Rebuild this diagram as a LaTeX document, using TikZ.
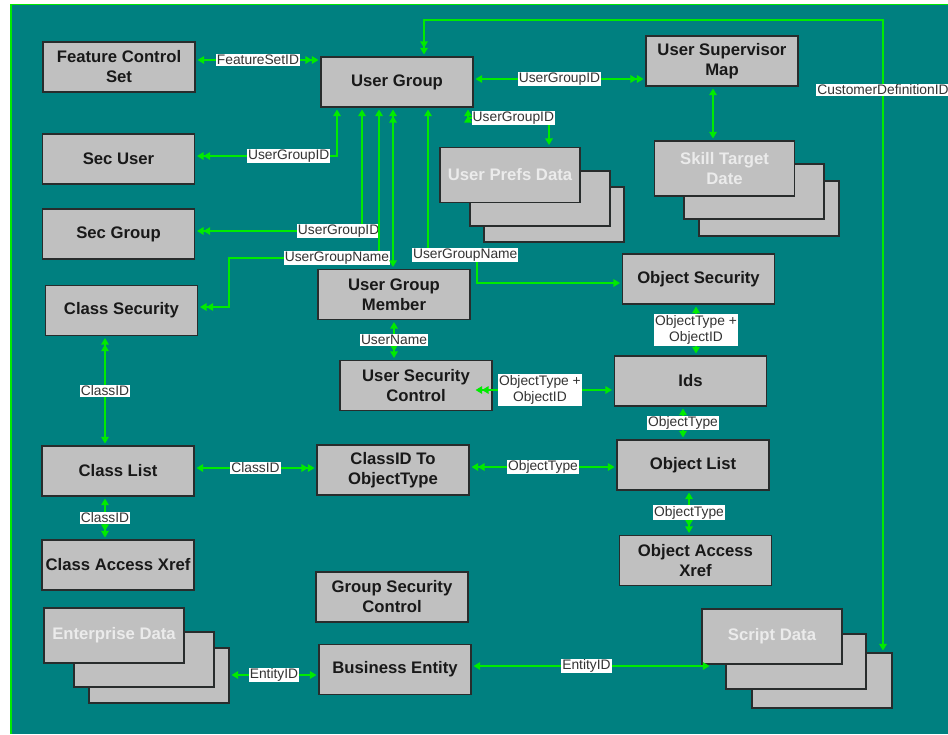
\documentclass[tikz,border=0pt]{standalone}
\usepackage{fontspec}
\setmainfont{Liberation Sans}
\usetikzlibrary{arrows.meta}
\definecolor{teal0}{RGB}{0,128,128}
\definecolor{lime0}{RGB}{0,235,0}
\definecolor{boxgray}{RGB}{192,192,192}
\definecolor{edgegray}{RGB}{40,44,44}

\begin{document}
\begin{tikzpicture}[x=1pt,y=-1pt,
  >={Triangle[length=6.5pt,width=7.5pt]},
  box/.style={draw=edgegray,line width=1.1pt,fill=boxgray,minimum width=152pt,minimum height=50pt,align=center,text=black!90,font=\fontsize{16.7}{20}\selectfont\bfseries},
  back/.style={draw=edgegray,line width=1.1pt,fill=boxgray,minimum width=140pt,minimum height=55pt},
  front/.style={back,align=center,text=white!92!black,font=\fontsize{16.7}{20}\selectfont\bfseries},
  link/.style={draw=lime0,line width=1.3pt,shorten <=2pt,shorten >=2pt},
  lbl/.style={fill=white,text=black!80,inner sep=1pt,font=\fontsize{13.8}{16.5}\selectfont}]
\useasboundingbox (0,0) rectangle (948,734);
\fill[white] (0,0) rectangle (948,734);
\fill[teal0] (11,4.5) rectangle (948,734);
\draw[lime0,line width=1.5pt] (11,734) -- (11,4.5) -- (948,4.5);

\node[box] (fcs) at (119,67) {Feature Control\\Set};
\node[box] (secuser) at (118.5,159) {Sec User};
\node[box] (secgroup) at (118.5,234) {Sec Group};
\node[box] (classsec) at (121.5,310.5) {Class Security};
\node[box] (classlist) at (118,471) {Class List};
\node[box,inner sep=1pt] (classxref) at (118,565) {Class Access Xref};
\node[box] (ug) at (397,82) {User Group};
\node[box] (usm) at (722,61) {User Supervisor\\Map};
\node[box] (ugm) at (394,294.5) {User Group\\Member};
\node[box] (objsec) at (698.5,279) {Object Security};
\node[box] (usc) at (416,385.5) {User Security\\Control};
\node[box] (ids) at (690.5,381) {Ids};
\node[box] (cid2ot) at (393,470) {ClassID To\\ObjectType};
\node[box] (objlist) at (693,465) {Object List};
\node[box] (objxref) at (695.5,560.5) {Object Access\\Xref};
\node[box] (gsc) at (392,597) {Group Security\\Control};
\node[box] (be) at (395,669.5) {Business Entity};

\node[back] (upd3) at (554,214.5) {};
\node[back] (upd2) at (540,198.5) {};
\node[front] (upd) at (510,175) {User Prefs Data};
\node[back] (std3) at (769,208.5) {};
\node[back] (std2) at (754,191.5) {};
\node[front] (std) at (724.5,168.5) {Skill Target\\Date};
\node[back] (ent3) at (159,675.5) {};
\node[back] (ent2) at (144,659.5) {};
\node[front] (ent) at (114,635.5) {Enterprise Data};
\node[back] (scr3) at (822,680.5) {};
\node[back] (scr2) at (796,661.5) {};
\node[front] (scr) at (772,636.5) {Script Data};

\draw[link,<->>] (fcs.east |- 0,60) -- node[lbl]{FeatureSetID} (ug.west |- 0,60);
\draw[link,<->>] (ug.east |- 0,79) -- node[lbl]{UserGroupID} (usm.west |- 0,79);
\draw[link,<->] (usm.south -| 713,0) -- (std.north -| 713,0);
\draw[link,<<->] (ug.north -| 424,0) |- (883,20) -- node[lbl,pos=.11]{CustomerDefinitionID} (scr3.north -| 883,0);
\draw[link,<->>] (ug.south -| 337,0) |- node[lbl,pos=.67]{UserGroupID} (secuser.east |- 0,156);
\draw[link,<->>] (ug.south -| 362,0) |- node[lbl,pos=.57]{UserGroupID} (secgroup.east |- 0,231);
\draw[link,<->>] (ug.south -| 379,0) |- node[lbl,pos=.64]{UserGroupName} (229,258) |- (classsec.east |- 0,307);
\draw[link,<<->] (ug.south -| 393,0) -- (ugm.north -| 393,0);
\draw[link,<->] (ug.south -| 428,0) |- node[lbl,pos=.88]{UserGroupName} (477,255) |- (objsec.west |- 0,283);
\draw[link,<<->] (ug.south -| 468,0) |- node[lbl,pos=.78]{UserGroupID} (549,118) -- (upd.north -| 549,0);
\draw[link,<->>] (ugm.south -| 394,0) -- node[lbl]{UserName} (usc.north -| 394,0);
\draw[link,<<->,shorten <=-17pt] (usc.east |- 0,390) -- node[lbl,pos=.39,align=center]{ObjectType +\\ObjectID} (ids.west |- 0,390);
\draw[link,<->] (objsec.south -| 696,0) -- node[lbl,align=center]{ObjectType +\\ObjectID} (ids.north -| 696,0);
\draw[link,<<->] (ids.south -| 683,0) -- node[lbl]{ObjectType} (objlist.north -| 683,0);
\draw[link,<<->] (classsec.south -| 105,0) -- node[lbl]{ClassID} (classlist.north -| 105,0);
\draw[link,<->>] (classlist.east |- 0,468) -- node[lbl]{ClassID} (cid2ot.west |- 0,468);
\draw[link,<->>] (classlist.south -| 105,0) -- node[lbl]{ClassID} (classxref.north -| 105,0);
\draw[link,<<->] (cid2ot.east |- 0,467) -- node[lbl]{ObjectType} (objlist.west |- 0,467);
\draw[link,<->>] (objlist.south -| 689,0) -- node[lbl]{ObjectType} (objxref.north -| 689,0);
\draw[link,<->] (ent3.east |- 0,675) -- node[lbl]{EntityID} (be.west |- 0,675);
\draw[link,<->,shorten >=-8pt] (be.east |- 0,666) -- node[lbl]{EntityID} (scr.south west |- 0,666);
\end{tikzpicture}
\end{document}
